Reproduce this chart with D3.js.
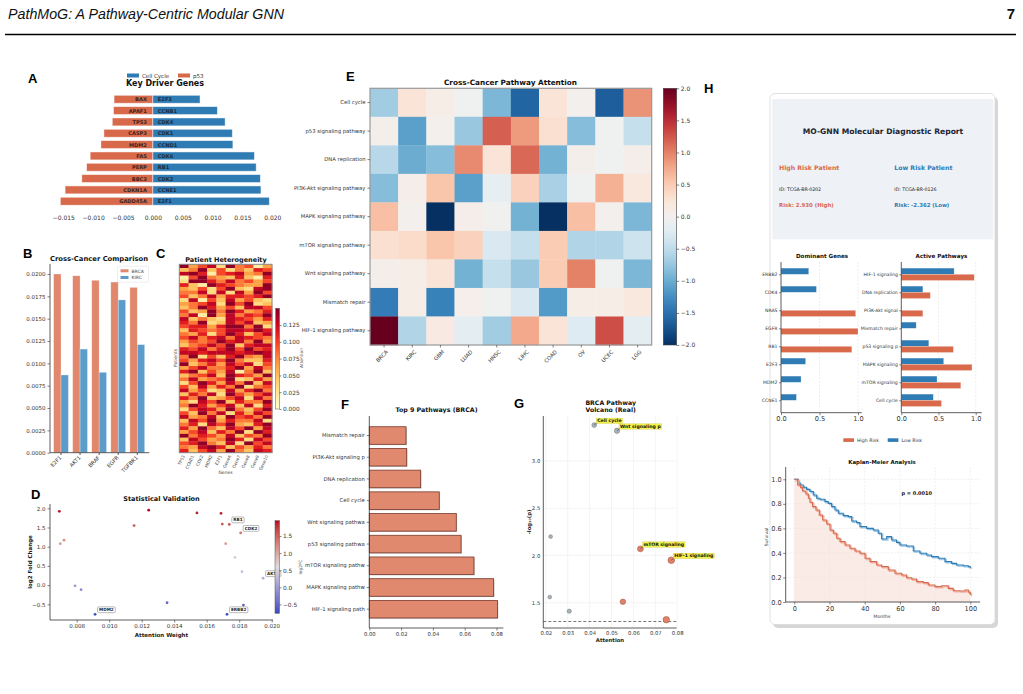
<!DOCTYPE html>
<html>
<head>
<meta charset="utf-8">
<script src="https://cdn.jsdelivr.net/npm/d3@7"></script>
<style>
  body { margin: 0; background: #fff; }
  svg { display: block; }
  text { font-family: "DejaVu Sans", sans-serif; }
</style>
</head>
<body>
<div id="fig"></div>
<script>
///////////////////////////////////////////////////////////////
/////////////////////// Data //////////////////////////////////
///////////////////////////////////////////////////////////////

// A - key driver genes (p53 negative side, cell cycle positive side)
var p53Genes = ["BAX", "APAF1", "TP53", "CASP3", "MDM2", "FAS", "PERP", "BBC3", "CDKN1A", "GADD45A"];
var p53Vals = [-0.0065, -0.0066, -0.0068, -0.0082, -0.0087, -0.0105, -0.0111, -0.0119, -0.0147, -0.0155];
var cycleGenes = ["E2F3", "CCNB1", "CDK4", "CDK1", "CCND1", "CDK6", "RB1", "CDK2", "CCNE1", "E2F1"];
var cycleVals = [0.0079, 0.0108, 0.0121, 0.0133, 0.0134, 0.0170, 0.0173, 0.0180, 0.0181, 0.0195];
var driverTicks = [-0.015, -0.010, -0.005, 0.000, 0.005, 0.010, 0.015, 0.020];

// B - cross-cancer comparison
var compGenes = ["E2F1", "AKT1", "BRAF", "EGFR", "TGFBR1"];
var compBRCA = [0.0200, 0.0198, 0.0193, 0.0191, 0.0185];
var compKIRC = [0.0087, 0.0116, 0.0090, 0.0171, 0.0121];
var compTicks = [0, 0.0025, 0.005, 0.0075, 0.01, 0.0125, 0.015, 0.0175, 0.02];

// C - patient heterogeneity (one string per patient, digit = attention level 0..9)
var hetGenes = ["TP53", "CCND1", "CDK2", "MDM2", "E2F1", "Gene6", "Gene7", "Gene8", "Gene9", "Gene10"];
var hetLevels = [
  "9468295614", "3593625376", "8971678459", "1695437317", "2997585646",
  "7319765449", "4362693289", "5582828496", "6358477679", "2816384632",
  "4568296923", "3597463886", "6349597457", "5819485769", "8353287647",
  "7592386834", "6774799592", "3765688797", "5472697368", "6857858765",
  "4656978594", "3568693788", "7685796967", "8878887898", "5926379548",
  "6478695337", "9357486826", "4685579485", "7936481593", "3568397649",
  "5845692374", "2697485938", "6384759256", "8462384795", "3758296468",
  "7593468285", "4286937559", "5974683827", "2687495369", "6395827486",
  "8458396759", "3869475582", "5728694379", "7495386948", "4683759297",
  "9576483659", "3864597286", "6795382968", "5489736475", "7368495387"
];
var hetMax = 0.145;
var hetTicks = [0, 0.025, 0.05, 0.075, 0.1, 0.125];

// D - statistical validation
var valAttn = [0.00693, 0.00699, 0.00722, 0.0079, 0.00827, 0.00913, 0.01153, 0.01243, 0.01356, 0.0154,
  0.01688, 0.01696, 0.01739, 0.01717, 0.01774, 0.01809, 0.01817, 0.01826, 0.01725, 0.01947];
var valFC = [1.92, 1.08, 1.17, -0.02, -0.12, -0.76, 1.55, 1.95, -0.46, 1.88,
  1.87, 1.59, 1.58, 1.08, 0.72, 1.36, 0.35, -0.52, -0.76, 0.18];
var valNames = ["", "", "", "", "", "MDM2", "", "", "", "",
  "", "", "RB1", "", "", "CDK2", "", "", "ERBB2", "AKT1"];
var valXTicks = [0.008, 0.010, 0.012, 0.014, 0.016, 0.018, 0.020];
var valYTicks = [-0.5, 0, 0.5, 1.0, 1.5, 2.0];

// E - cross-cancer pathway attention
var cancerTypes = ["BRCA", "KIRC", "GBM", "LUAD", "HNSC", "LIHC", "COAD", "OV", "UCEC", "LGG"];
var pathwayNames = ["Cell cycle", "p53 signaling pathway", "DNA replication", "PI3K-Akt signaling pathway",
  "MAPK signaling pathway", "mTOR signaling pathway", "Wnt signaling pathway", "Mismatch repair", "HIF-1 signaling pathway"];
var attnCellCycle = [-0.7, 0.25, 0.1, -0.05, -0.9, -1.6, 0.25, 0.02, -1.65, 0.9];
var attnP53 = [0.05, -1.1, 0.03, -0.75, 1.2, 0.85, 0.3, -0.85, -0.05, -0.45];
var attnDNA = [-0.55, -1.0, -0.85, 0.95, 0.25, 1.15, -0.95, 0.05, -0.05, 0.08];
var attnPI3K = [-0.85, 0.08, 0.55, -1.1, -0.15, 0.45, -0.65, -0.05, 0.7, 0.2];
var attnMAPK = [0.6, 0.02, -2.0, 0.08, -0.03, -0.95, -2.0, 0.6, 0.02, -0.9];
var attnMTOR = [0.3, 0.35, 0.55, 0.45, -0.3, -0.45, 0.5, -0.6, -0.6, -0.4];
var attnWnt = [0.05, 0.1, 0.25, -0.95, -0.45, -0.75, 0.5, 1.0, -0.05, -0.9];
var attnMMR = [-1.4, 0.1, -1.35, 0.06, -0.05, -0.3, -1.15, 0.1, 0.1, 0.2];
var attnHIF = [2.0, -0.6, 0.15, -0.2, -0.7, 0.75, 0.25, -0.25, 1.3, -0.2];
var attnTicks = [-2, -1.5, -1, -0.5, 0, 0.5, 1, 1.5, 2];

// F - top pathways
var topPathways = ["Mismatch repair", "PI3K-Akt signaling p", "DNA replication", "Cell cycle", "Wnt signaling pathwa",
  "p53 signaling pathwa", "mTOR signaling pathw", "MAPK signaling pathw", "HIF-1 signaling path"];
var topVals = [0.0231, 0.0235, 0.0323, 0.0440, 0.0547, 0.0577, 0.0658, 0.0782, 0.0806];
var topTicks = [0, 0.02, 0.04, 0.06, 0.08];

// G - volcano
var volNames = ["Cell cycle", "Wnt signaling p", "", "", "", "mTOR signaling", "HIF-1 signaling", "", ""];
var volAttn = [0.0421, 0.0525, 0.0222, 0.0218, 0.0307, 0.0632, 0.0773, 0.0552, 0.0750];
var volLogP = [3.38, 3.32, 2.20, 1.56, 1.41, 2.07, 1.95, 1.51, 1.32];
var volUp = [false, false, false, false, false, true, true, true, true];
var volXTicks = [0.02, 0.03, 0.04, 0.05, 0.06, 0.07, 0.08];
var volYTicks = [1.5, 2.0, 2.5, 3.0];

// H - diagnostic report
var domGenes = ["ERBB2", "CDK4", "NRAS", "EGFR", "RB1", "E2F3", "MDM2", "CCNE1"];
var domHigh = [0, 0, 0.97, 1.0, 0.92, 0, 0, 0];
var domLow = [0.36, 0.46, 0, 0, 0, 0.32, 0.26, 0.20];
var actPaths = ["HIF-1 signaling", "DNA replication", "PI3K-Akt signal", "Mismatch repair",
  "p53 signaling p", "MAPK signaling", "mTOR signaling", "Cell cycle"];
var actHigh = [0.98, 0.39, 0.29, 0, 0.70, 0.95, 0.80, 0.54];
var actLow = [0.71, 0.29, 0, 0.20, 0.37, 0.57, 0.48, 0.43];
var kmLowMonths = [0, 2.3, 3.2, 5.1, 7, 8.9, 10.8, 12.7, 14.6, 17.4, 19.3, 21.2, 23.1, 25, 27.8, 30.7, 32.6, 35.4, 37.3,
  41.1, 44.9, 47.7, 49.6, 52.5, 55.3, 58.1, 60, 63.8, 67.6, 71.4, 75.2, 78, 81.8, 85.6, 89.4, 92.2, 96, 98.9, 100];
var kmLowSurv = [1, 0.973, 0.954, 0.935, 0.918, 0.9, 0.872, 0.845, 0.837, 0.818, 0.804, 0.777, 0.75, 0.723, 0.704, 0.696,
  0.66, 0.647, 0.614, 0.6, 0.587, 0.56, 0.514, 0.533, 0.505, 0.486, 0.465, 0.457, 0.416, 0.397, 0.383, 0.37, 0.356,
  0.329, 0.315, 0.302, 0.296, 0.288, 0.28];
var kmHighMonths = [0, 1.9, 3.6, 4.7, 6.6, 8, 8.9, 10.4, 12.3, 14.2, 16.1, 18.4, 20.3, 22.2, 24.1, 26, 28.8, 31.6, 34.5,
  37.3, 40.2, 43, 46.8, 49.6, 53.4, 57.2, 61, 63.8, 66.7, 69.5, 73.3, 76.1, 79.9, 83.7, 87.5, 90.3, 94.1, 97, 98.9, 100];
var kmHighSurv = [1, 0.954, 0.932, 0.905, 0.88, 0.845, 0.8125, 0.777, 0.75, 0.709, 0.668, 0.636, 0.587, 0.56, 0.519,
  0.492, 0.465, 0.4375, 0.416, 0.397, 0.356, 0.329, 0.302, 0.288, 0.261, 0.234, 0.22, 0.198, 0.1875, 0.166, 0.158,
  0.139, 0.125, 0.133, 0.111, 0.092, 0.09, 0.098, 0.079, 0.057];
var kmXTicks = [0, 20, 40, 60, 80, 100];
var kmYTicks = [0, 0.2, 0.4, 0.6, 0.8, 1.0];

///////////////////////////////////////////////////////////////
/////////////////////// Helpers ///////////////////////////////
///////////////////////////////////////////////////////////////

var RED = "#d8694b", BLUE = "#2f7bb4";

var svg = d3.select("#fig").append("svg")
  .attr("width", 1023)
  .attr("height", 694);
svg.append("rect").attr("width", 1023).attr("height", 694).attr("fill", "#fff");
var defs = svg.append("defs");

function styleAxis(g, size, keepDomain) {
  g.attr("font-size", size).attr("font-family", "DejaVu Sans, sans-serif");
  g.selectAll("text").attr("fill", "#333");
  g.selectAll(".tick line").attr("stroke", "#333").attr("stroke-width", 0.6);
  if (keepDomain) g.select(".domain").attr("stroke", "#333").attr("stroke-width", 0.8);
  else g.select(".domain").remove();
  return g;
}

function spine(x1, y1, x2, y2) {
  svg.append("line").attr("x1", x1).attr("y1", y1).attr("x2", x2).attr("y2", y2)
    .attr("stroke", "#333").attr("stroke-width", 0.8);
}

function label(txt, x, y, size, opts) {
  opts = opts || {};
  var t = svg.append("text").attr("x", x).attr("y", y)
    .attr("font-size", size)
    .attr("text-anchor", opts.anchor || "start")
    .attr("font-weight", opts.bold ? "bold" : "normal")
    .attr("fill", opts.color || "#222")
    .text(txt);
  if (opts.rotate) t.attr("transform", "rotate(" + opts.rotate + "," + x + "," + y + ")");
  if (opts.family) t.style("font-family", opts.family);
  return t;
}

function panelLetter(txt, x, y) {
  label(txt, x, y, 13, { bold: true, color: "#000", family: "Liberation Sans, Arial, sans-serif" });
}

function vGradient(id, colorFn, lo, hi) {
  var grad = defs.append("linearGradient").attr("id", id)
    .attr("x1", 0).attr("y1", 1).attr("x2", 0).attr("y2", 0);
  d3.range(0, 1.0001, 0.05).forEach(function (t) {
    grad.append("stop").attr("offset", t).attr("stop-color", colorFn(lo + t * (hi - lo)));
  });
}

///////////////////////////////////////////////////////////////
/////////////////////// Page header ///////////////////////////
///////////////////////////////////////////////////////////////

label("PathMoG: A Pathway-Centric Modular GNN", 8, 19, 15.5, { family: "Liberation Sans, sans-serif", color: "#111" })
  .attr("font-style", "italic")
  .attr("textLength", 276)
  .attr("lengthAdjust", "spacingAndGlyphs");
label("7", 1015, 19, 15, { anchor: "end", bold: true, color: "#111", family: "Liberation Sans, sans-serif" });
svg.append("line").attr("x1", 5).attr("x2", 1016).attr("y1", 34.5).attr("y2", 34.5)
  .attr("stroke", "#000").attr("stroke-width", 1.6);

///////////////////////////////////////////////////////////////
/////////////////////// A: Key Driver Genes ///////////////////
///////////////////////////////////////////////////////////////

panelLetter("A", 28, 83);
var xA = d3.scaleLinear().domain([-0.015, 0.020]).range([63.3, 272.3]);
var yA = d3.scaleBand().domain(d3.range(10)).range([91.9, 208.6]).padding(0.3);

svg.selectAll(".barP53").data(p53Vals).enter().append("rect")
  .attr("x", function (d) { return xA(d); })
  .attr("y", function (d, i) { return yA(i); })
  .attr("width", function (d) { return xA(0) - xA(d); })
  .attr("height", yA.bandwidth())
  .attr("fill", RED).attr("stroke", "#fff").attr("stroke-opacity", 0.6).attr("stroke-width", 0.8);
svg.selectAll(".barCycle").data(cycleVals).enter().append("rect")
  .attr("x", xA(0))
  .attr("y", function (d, i) { return yA(i); })
  .attr("width", function (d) { return xA(d) - xA(0); })
  .attr("height", yA.bandwidth())
  .attr("fill", BLUE).attr("stroke", "#fff").attr("stroke-opacity", 0.6).attr("stroke-width", 0.8);

p53Genes.forEach(function (g, i) {
  label(g, xA(0) - 6, yA(i) + yA.bandwidth() / 2 + 2, 5.1, { anchor: "end", bold: true, color: "#3a2620" });
});
cycleGenes.forEach(function (g, i) {
  label(g, xA(0) + 5, yA(i) + yA.bandwidth() / 2 + 2, 5.1, { bold: true, color: "#1d2b3a" });
});

styleAxis(svg.append("g").attr("transform", "translate(0,213)")
  .call(d3.axisBottom(xA).tickValues(driverTicks).tickFormat(d3.format(".3f")).tickSize(0).tickPadding(3)), 6);

svg.append("rect").attr("x", 127).attr("y", 73.5).attr("width", 12).attr("height", 4).attr("fill", BLUE);
label("Cell Cycle", 142, 77.8, 5.5, { color: "#333" });
svg.append("rect").attr("x", 178).attr("y", 73.5).attr("width", 12).attr("height", 4).attr("fill", RED);
label("p53", 193, 77.8, 5.5, { color: "#333" });
label("Key Driver Genes", 165, 85.5, 8, { anchor: "middle", bold: true, color: "#111" });

///////////////////////////////////////////////////////////////
/////////////////////// B: Cross-Cancer Comparison ////////////
///////////////////////////////////////////////////////////////

panelLetter("B", 23, 258);
var xB = d3.scalePoint().domain(compGenes).range([61, 137.3]);
var yB = d3.scaleLinear().domain([0, 0.02]).range([452.7, 274]);
var bwB = 7.4;

svg.selectAll(".barBRCA").data(compBRCA).enter().append("rect")
  .attr("x", function (d, i) { return xB(compGenes[i]) - bwB; })
  .attr("y", function (d) { return yB(d); })
  .attr("width", bwB).attr("height", function (d) { return yB(0) - yB(d); })
  .attr("fill", "#e0876c").attr("stroke", "#fff").attr("stroke-opacity", 0.5).attr("stroke-width", 0.6);
svg.selectAll(".barKIRC").data(compKIRC).enter().append("rect")
  .attr("x", function (d, i) { return xB(compGenes[i]); })
  .attr("y", function (d) { return yB(d); })
  .attr("width", bwB).attr("height", function (d) { return yB(0) - yB(d); })
  .attr("fill", "#5b9ccb").attr("stroke", "#fff").attr("stroke-opacity", 0.5).attr("stroke-width", 0.6);

styleAxis(svg.append("g").attr("transform", "translate(50,0)")
  .call(d3.axisLeft(yB).tickValues(compTicks).tickFormat(d3.format(".4f")).tickSize(2.5).tickPadding(2)), 5.5);
spine(50, 264, 50, 452.7);
spine(50, 452.7, 149.3, 452.7);
compGenes.forEach(function (g) {
  spine(xB(g), 452.7, xB(g), 455);
  label(g, xB(g) + 1, 458, 5.3, { anchor: "end", rotate: -45, color: "#333" });
});
svg.append("rect").attr("x", 117.5).attr("y", 266.2).attr("width", 31).attr("height", 16)
  .attr("fill", "#fff").attr("stroke", "#ddd").attr("stroke-width", 0.5).attr("rx", 1);
svg.append("rect").attr("x", 120.5).attr("y", 269.3).attr("width", 8).attr("height", 3).attr("fill", "#e0876c");
label("BRCA", 131.5, 272.5, 4.5, { color: "#444" });
svg.append("rect").attr("x", 120.5).attr("y", 276).attr("width", 8).attr("height", 3).attr("fill", "#5b9ccb");
label("KIRC", 131.5, 279.2, 4.5, { color: "#444" });
label("Cross-Cancer Comparison", 99, 261, 6.8, { anchor: "middle", bold: true, color: "#111" });

///////////////////////////////////////////////////////////////
/////////////////////// C: Patient Heterogeneity //////////////
///////////////////////////////////////////////////////////////

panelLetter("C", 156, 258);
var xC = d3.scaleBand().domain(hetGenes).range([179.3, 272]);
var yC = d3.scaleBand().domain(d3.range(hetLevels.length)).range([264.3, 452.7]);
var colorC = d3.scaleSequential(d3.interpolateYlOrRd).domain([0, 0.15]);
var hetCells = [];
hetLevels.forEach(function (row, i) {
  row.split("").forEach(function (c, j) {
    hetCells.push({ r: i, g: hetGenes[j], v: (+c) / 9 * hetMax });
  });
});
svg.selectAll(".hetCell").data(hetCells).enter().append("rect")
  .attr("x", function (d) { return xC(d.g); })
  .attr("y", function (d) { return yC(d.r); })
  .attr("width", xC.bandwidth() + 0.3)
  .attr("height", yC.bandwidth() + 0.3)
  .attr("fill", function (d) { return colorC(d.v); });
svg.append("rect").attr("x", 179.3).attr("y", 264.3).attr("width", 92.7).attr("height", 188.4)
  .attr("fill", "none").attr("stroke", "#888").attr("stroke-width", 1);
hetGenes.forEach(function (g) {
  label(g, xC(g) + xC.bandwidth() / 2 + 1, 456, 4.2, { anchor: "end", rotate: -65, color: "#444" });
});
label("Genes", 225.5, 474, 4.5, { anchor: "middle", color: "#444" });
label("Patients", 177, 358, 4.5, { anchor: "middle", rotate: -90, color: "#444" });
label("Patient Heterogeneity", 226, 262, 6.5, { anchor: "middle", bold: true, color: "#111" });

vGradient("gradC", colorC, 0, 0.15);
var yCb = d3.scaleLinear().domain([0, 0.15]).range([409, 308.3]);
svg.append("rect").attr("x", 275.7).attr("y", 308.3).attr("width", 3.8).attr("height", 100.7)
  .attr("fill", "url(#gradC)").attr("stroke", "#555").attr("stroke-width", 0.5);
styleAxis(svg.append("g").attr("transform", "translate(279.5,0)")
  .call(d3.axisRight(yCb).tickValues(hetTicks).tickFormat(d3.format(".3f")).tickSize(2).tickPadding(1.5)), 5.8);
label("Attention", 303, 358, 4.3, { anchor: "middle", rotate: -90, color: "#444" });

///////////////////////////////////////////////////////////////
/////////////////////// D: Statistical Validation /////////////
///////////////////////////////////////////////////////////////

panelLetter("D", 31, 499);
var xD = d3.scaleLinear().domain([0.008, 0.020]).range([76.7, 271.7]);
var yD = d3.scaleLinear().domain([-0.5, 2.0]).range([604.3, 508.3]);
var fcExtent = d3.extent(valFC);
var colorD = d3.scaleLinear()
  .domain([fcExtent[0], (fcExtent[0] + fcExtent[1]) / 2, fcExtent[1]])
  .range(["#3b4cc0", "#dddddd", "#b40426"])
  .interpolate(d3.interpolateLab);

styleAxis(svg.append("g").attr("transform", "translate(0,620)")
  .call(d3.axisBottom(xD).tickValues(valXTicks).tickFormat(d3.format(".3f")).tickSize(2.5).tickPadding(2)), 5.5);
styleAxis(svg.append("g").attr("transform", "translate(50,0)")
  .call(d3.axisLeft(yD).tickValues(valYTicks).tickFormat(d3.format(".1f")).tickSize(2.5).tickPadding(2)), 5.5);
spine(50, 504, 50, 620);
spine(50, 620, 273, 620);

svg.selectAll(".valPt").data(valAttn).enter().append("circle")
  .attr("cx", function (d) { return xD(d); })
  .attr("cy", function (d, i) { return yD(valFC[i]); })
  .attr("r", 1.4)
  .attr("fill", function (d, i) { return colorD(valFC[i]); });

valNames.forEach(function (n, i) {
  if (!n) return;
  var px = xD(valAttn[i]) + 2.5, py = yD(valFC[i]) - 3;
  var t = label(n, px + 1.5, py, 4.2, { bold: true, color: "#222" });
  var w = t.node().getComputedTextLength();
  svg.insert("rect", function () { return t.node(); })
    .attr("x", px).attr("y", py - 4.4).attr("width", w + 3).attr("height", 5.8).attr("rx", 1)
    .attr("fill", "#fff").attr("stroke", "#777").attr("stroke-width", 0.5);
});

label("Statistical Validation", 161.5, 501, 6.5, { anchor: "middle", bold: true, color: "#111" });
label("log2 Fold Change", 32, 562, 5.5, { anchor: "middle", bold: true, rotate: -90, color: "#222" });
label("Attention Weight", 161.5, 637, 5.5, { anchor: "middle", bold: true, color: "#222" });

vGradient("gradD", colorD, fcExtent[0], fcExtent[1]);
var yDb = d3.scaleLinear().domain(fcExtent).range([613.3, 520.7]);
svg.append("rect").attr("x", 275).attr("y", 520.7).attr("width", 4.5).attr("height", 92.6)
  .attr("fill", "url(#gradD)").attr("stroke", "#555").attr("stroke-width", 0.5);
styleAxis(svg.append("g").attr("transform", "translate(279.5,0)")
  .call(d3.axisRight(yDb).tickValues([-0.5, 0, 0.5, 1.0, 1.5]).tickFormat(d3.format(".1f")).tickSize(2).tickPadding(1.5)), 5.8);
label("log2FC", 302, 567, 4.3, { anchor: "middle", rotate: -90, color: "#444" });

///////////////////////////////////////////////////////////////
/////////////////////// E: Cross-Cancer Pathway Attention /////
///////////////////////////////////////////////////////////////

panelLetter("E", 346, 81);
var attnMatrix = [attnCellCycle, attnP53, attnDNA, attnPI3K, attnMAPK, attnMTOR, attnWnt, attnMMR, attnHIF];
var xE = d3.scaleBand().domain(cancerTypes).range([370, 651.7]);
var yE = d3.scaleBand().domain(pathwayNames).range([88.3, 345]);
var colorE = d3.scaleDiverging([-2, 0, 2], function (t) { return d3.interpolateRdBu(1 - t); });
var cellsE = [];
pathwayNames.forEach(function (p, i) {
  cancerTypes.forEach(function (c, j) { cellsE.push({ p: p, c: c, v: attnMatrix[i][j] }); });
});
svg.selectAll(".attnCell").data(cellsE).enter().append("rect")
  .attr("x", function (d) { return xE(d.c); })
  .attr("y", function (d) { return yE(d.p); })
  .attr("width", xE.bandwidth() + 0.3)
  .attr("height", yE.bandwidth() + 0.3)
  .attr("fill", function (d) { return colorE(d.v); });
svg.append("rect").attr("x", 370).attr("y", 88.3).attr("width", 281.7).attr("height", 256.7)
  .attr("fill", "none").attr("stroke", "#999").attr("stroke-width", 1.2);
styleAxis(svg.append("g").attr("transform", "translate(370,0)")
  .call(d3.axisLeft(yE).tickSize(2.5).tickPadding(2)), 5.3);
var gxE = styleAxis(svg.append("g").attr("transform", "translate(0,345)")
  .call(d3.axisBottom(xE).tickSize(2.5).tickPadding(2)), 5.3);
gxE.selectAll("text").attr("text-anchor", "end").attr("dy", "0.3em")
  .attr("transform", "translate(0,3) rotate(-45)");
label("Cross-Cancer Pathway Attention", 510.5, 85, 7.3, { anchor: "middle", bold: true, color: "#111" });

vGradient("gradE", colorE, -2, 2);
var yEb = d3.scaleLinear().domain([-2, 2]).range([345, 88.3]);
svg.append("rect").attr("x", 663.3).attr("y", 88.3).attr("width", 13.4).attr("height", 256.7)
  .attr("fill", "url(#gradE)").attr("stroke", "#444").attr("stroke-width", 0.6);
styleAxis(svg.append("g").attr("transform", "translate(676.7,0)")
  .call(d3.axisRight(yEb).tickValues(attnTicks).tickFormat(d3.format(".1f")).tickSize(2.5).tickPadding(1.5)), 6);

///////////////////////////////////////////////////////////////
/////////////////////// F: Top 9 Pathways /////////////////////
///////////////////////////////////////////////////////////////

panelLetter("F", 341, 409);
var xF = d3.scaleLinear().domain([0, 0.08]).range([369.3, 496.5]);
var yF = d3.scaleBand().domain(topPathways).range([422.6, 622.1]).padding(0.19);
svg.selectAll(".topShadow").data(topVals).enter().append("rect")
  .attr("x", xF(0) + 0.8)
  .attr("y", function (d, i) { return yF(topPathways[i]) + 0.8; })
  .attr("width", function (d) { return xF(d) - xF(0); })
  .attr("height", yF.bandwidth())
  .attr("fill", "#bdbdbd");
svg.selectAll(".topBar").data(topVals).enter().append("rect")
  .attr("x", xF(0))
  .attr("y", function (d, i) { return yF(topPathways[i]); })
  .attr("width", function (d) { return xF(d) - xF(0); })
  .attr("height", yF.bandwidth())
  .attr("fill", "#e0896f").attr("stroke", "#7a3a2c").attr("stroke-width", 0.8);
styleAxis(svg.append("g").attr("transform", "translate(369.3,0)")
  .call(d3.axisLeft(yF).tickSize(2.5).tickPadding(2)), 5.3);
styleAxis(svg.append("g").attr("transform", "translate(0,628)")
  .call(d3.axisBottom(xF).tickValues(topTicks).tickFormat(d3.format(".2f")).tickSize(2.5).tickPadding(2)), 5.3);
spine(369.3, 416, 369.3, 628);
spine(369.3, 628, 503.3, 628);
label("Top 9 Pathways (BRCA)", 436.5, 412, 6.3, { anchor: "middle", bold: true, color: "#111" });

///////////////////////////////////////////////////////////////
/////////////////////// G: Volcano ////////////////////////////
///////////////////////////////////////////////////////////////

panelLetter("G", 514, 408);
var xG = d3.scaleLinear().domain([0.03, 0.07]).range([567.7, 655.3]);
var yG = d3.scaleLinear().domain([1.5, 3.0]).range([602.7, 461]);
volXTicks.forEach(function (t) {
  svg.append("line").attr("x1", xG(t)).attr("x2", xG(t)).attr("y1", 416).attr("y2", 628)
    .attr("stroke", "#ececec").attr("stroke-width", 0.6);
});
volYTicks.forEach(function (t) {
  svg.append("line").attr("x1", 543.3).attr("x2", 676.7).attr("y1", yG(t)).attr("y2", yG(t))
    .attr("stroke", "#ececec").attr("stroke-width", 0.6);
});
svg.append("line").attr("x1", 543.3).attr("x2", 676.7).attr("y1", yG(1.301)).attr("y2", yG(1.301))
  .attr("stroke", "#555").attr("stroke-width", 0.8).attr("stroke-dasharray", "3,2");
styleAxis(svg.append("g").attr("transform", "translate(543.3,0)")
  .call(d3.axisLeft(yG).tickValues(volYTicks).tickFormat(d3.format(".1f")).tickSize(0).tickPadding(3)), 5.3);
styleAxis(svg.append("g").attr("transform", "translate(0,628)")
  .call(d3.axisBottom(xG).tickValues(volXTicks).tickFormat(d3.format(".2f")).tickSize(0).tickPadding(3)), 5.3);
spine(543.3, 416, 543.3, 628);
spine(543.3, 628, 676.7, 628);

svg.selectAll(".volPt").data(volAttn).enter().append("circle")
  .attr("cx", function (d) { return xG(d); })
  .attr("cy", function (d, i) { return yG(volLogP[i]); })
  .attr("r", function (d) { return 1.3 + 26 * d; })
  .attr("fill", function (d, i) { return volUp[i] ? "#e0826a" : "#a9b4ba"; })
  .attr("stroke", function (d, i) { return volUp[i] ? "#9a4a38" : "#6b7378"; })
  .attr("stroke-width", 0.5);

volNames.forEach(function (n, i) {
  if (!n) return;
  var px = xG(volAttn[i]), py = yG(volLogP[i]);
  var t = label(n, px + 3, py - 2.9, 4.6, { bold: true, color: "#111" });
  var w = t.node().getComputedTextLength();
  svg.insert("rect", function () { return t.node(); })
    .attr("x", px + 2).attr("y", py - 7).attr("width", w + 2).attr("height", 5.4)
    .attr("fill", "#f4f04a").attr("stroke", "#c9c23a").attr("stroke-width", 0.3);
  svg.append("line").attr("x1", px).attr("y1", py).attr("x2", px + 2.5).attr("y2", py - 2)
    .attr("stroke", "#222").attr("stroke-width", 0.5);
});

label("BRCA Pathway", 610.7, 405, 6.2, { anchor: "middle", bold: true, color: "#111" });
label("Volcano (Real)", 610.7, 411.5, 6.2, { anchor: "middle", bold: true, color: "#111" });
label("-log\u2081\u2080(p)", 531, 522, 5.3, { anchor: "middle", bold: true, rotate: -90, color: "#222" });
label("Attention", 610, 642, 5.3, { anchor: "middle", bold: true, color: "#222" });

///////////////////////////////////////////////////////////////
/////////////////////// H: Diagnostic report card /////////////
///////////////////////////////////////////////////////////////

panelLetter("H", 704, 93);
svg.append("rect").attr("x", 773).attr("y", 97).attr("width", 225).attr("height", 531).attr("rx", 5)
  .attr("fill", "#d6d6d6");
svg.append("rect").attr("x", 770).attr("y", 93.5).attr("width", 225).attr("height", 531).attr("rx", 5)
  .attr("fill", "#fff").attr("stroke", "#d9d9d9").attr("stroke-width", 0.8);
svg.append("rect").attr("x", 772.3).attr("y", 99).attr("width", 221).attr("height", 140.3)
  .attr("fill", "#eef1f6");

label("MO-GNN Molecular Diagnostic Report", 883, 134, 7.6, { anchor: "middle", bold: true, color: "#1c2430" });
label("High Risk Patient", 779, 170, 6.2, { bold: true, color: RED });
label("Low Risk Patient", 894.3, 170, 6.2, { bold: true, color: BLUE });
label("ID: TCGA-BR-0202", 779, 191, 4.7, { color: "#222" });
label("ID: TCGA-BR-0126", 894.3, 191, 4.7, { color: "#222" });
label("Risk: 2.930 (High)", 779, 207.3, 5.4, { bold: true, color: RED });
label("Risk: -2.362 (Low)", 894.3, 207.3, 5.4, { bold: true, color: BLUE });

// grouped horizontal bars (low risk above tick, high risk below)
function riskBars(cats, lowVals, highVals, x0, x1, xEnd, title, titleX) {
  var x = d3.scaleLinear().domain([0, 1]).range([x0, x1]);
  var y = d3.scalePoint().domain(cats).range([274.3, 400.3]);
  [0.5, 1.0].forEach(function (t) {
    svg.append("line").attr("x1", x(t)).attr("x2", x(t)).attr("y1", 262).attr("y2", 412.7)
      .attr("stroke", "#e2e2e2").attr("stroke-width", 0.6).attr("stroke-dasharray", "2,1.5");
  });
  svg.selectAll(null).data(lowVals).enter().append("rect")
    .attr("x", x(0)).attr("y", function (d, i) { return y(cats[i]) - 6.2; })
    .attr("width", function (d) { return x(d) - x(0); }).attr("height", 6.2)
    .attr("fill", BLUE).attr("stroke", "#fff").attr("stroke-opacity", 0.5).attr("stroke-width", 0.5);
  svg.selectAll(null).data(highVals).enter().append("rect")
    .attr("x", x(0)).attr("y", function (d, i) { return y(cats[i]); })
    .attr("width", function (d) { return x(d) - x(0); }).attr("height", 6.2)
    .attr("fill", RED).attr("stroke", "#fff").attr("stroke-opacity", 0.5).attr("stroke-width", 0.5);
  styleAxis(svg.append("g").attr("transform", "translate(" + x0 + ",0)")
    .call(d3.axisLeft(y).tickSize(2).tickPadding(1.5)), 4.6);
  styleAxis(svg.append("g").attr("transform", "translate(0,412.7)")
    .call(d3.axisBottom(x).tickValues([0, 0.5, 1.0]).tickFormat(d3.format(".1f")).tickSize(2.5).tickPadding(1.5)), 6.6);
  spine(x0, 262, x0, 412.7);
  spine(x0, 412.7, xEnd, 412.7);
  label(title, titleX, 258.3, 5.6, { anchor: "middle", bold: true, color: "#111" });
}
riskBars(domGenes, domLow, domHigh, 781, 858, 861.7, "Dominant Genes", 822);
riskBars(actPaths, actLow, actHigh, 901.3, 975.7, 981.7, "Active Pathways", 941.5);

svg.append("rect").attr("x", 843.3).attr("y", 438.3).attr("width", 10.7).attr("height", 3.6).attr("fill", RED);
label("High Risk", 857, 441.8, 4.7, { color: "#333" });
svg.append("rect").attr("x", 887.7).attr("y", 438.3).attr("width", 10.7).attr("height", 3.6).attr("fill", BLUE);
label("Low Risk", 901.5, 441.8, 4.7, { color: "#333" });

// Kaplan-Meier
var xK = d3.scaleLinear().domain([0, 100]).range([794.3, 970.3]);
var yK = d3.scaleLinear().domain([0, 1]).range([602, 479.3]);
kmXTicks.forEach(function (t) {
  svg.append("line").attr("x1", xK(t)).attr("x2", xK(t)).attr("y1", 467).attr("y2", 602)
    .attr("stroke", "#e6e6e6").attr("stroke-width", 0.6).attr("stroke-dasharray", "2,1.5");
});
kmYTicks.forEach(function (t) {
  svg.append("line").attr("x1", 785.7).attr("x2", 980).attr("y1", yK(t)).attr("y2", yK(t))
    .attr("stroke", "#e6e6e6").attr("stroke-width", 0.6).attr("stroke-dasharray", "2,1.5");
});
var kmHigh = kmHighMonths.map(function (m, i) { return [m, kmHighSurv[i]]; });
var kmLow = kmLowMonths.map(function (m, i) { return [m, kmLowSurv[i]]; });
svg.append("path").datum(kmHigh)
  .attr("d", d3.area().x(function (d) { return xK(d[0]); }).y0(yK(0)).y1(function (d) { return yK(d[1]); })
    .curve(d3.curveStepAfter))
  .attr("fill", "#f7ddd7").attr("fill-opacity", 0.6);
var kmLine = d3.line().x(function (d) { return xK(d[0]); }).y(function (d) { return yK(d[1]); })
  .curve(d3.curveStepAfter);
[[kmLow, BLUE, "#9cc6e6"], [kmHigh, RED, "#f0b2a2"]].forEach(function (s) {
  svg.append("path").datum(s[0]).attr("d", kmLine).attr("fill", "none")
    .attr("stroke", s[2]).attr("stroke-width", 1.4).attr("transform", "translate(1.2,1.2)");
  svg.append("path").datum(s[0]).attr("d", kmLine).attr("fill", "none")
    .attr("stroke", s[1]).attr("stroke-width", 1.1);
});
styleAxis(svg.append("g").attr("transform", "translate(785.7,0)")
  .call(d3.axisLeft(yK).tickValues(kmYTicks).tickFormat(d3.format(".1f")).tickSize(2.5).tickPadding(1.5)), 6.6);
styleAxis(svg.append("g").attr("transform", "translate(0,602)")
  .call(d3.axisBottom(xK).tickValues(kmXTicks).tickFormat(d3.format("d")).tickSize(2.5).tickPadding(1.5)), 6.6);
spine(785.7, 467, 785.7, 602);
spine(785.7, 602, 980, 602);
label("Kaplan-Meier Analysis", 882, 464, 5.4, { anchor: "middle", bold: true, color: "#111" });
label("p = 0.0010", 916.7, 495.3, 5, { anchor: "middle", bold: true, color: "#111" });
label("Survival", 767.5, 537, 4.6, { anchor: "middle", rotate: -90, color: "#333" });
label("Months", 882, 618, 4.6, { anchor: "middle", color: "#333" });
</script>
</body>
</html>
